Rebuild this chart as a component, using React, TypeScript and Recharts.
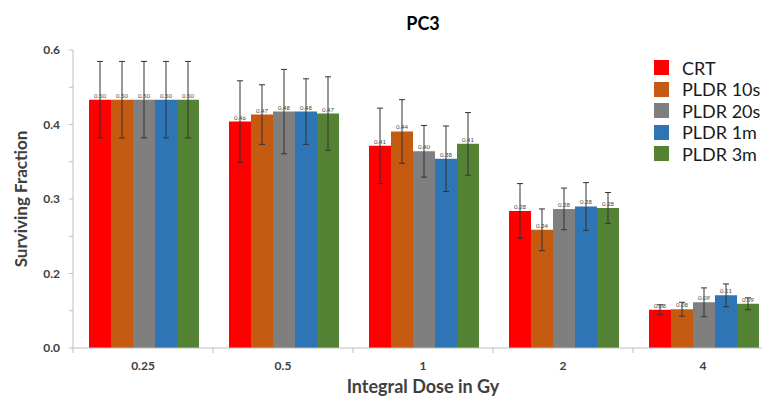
import React from 'react';
import { BarChart, Bar, XAxis, YAxis, ErrorBar, LabelList } from 'recharts';

const DOSES = ['0.25', '0.5', '1', '2', '4'];

const CRT = [0.5, 0.456, 0.407, 0.276, 0.077];
const CRT_ERR = [0.077, 0.082, 0.076, 0.055, 0.01];
const PLDR_10S = [0.5, 0.47, 0.436, 0.238, 0.078];
const PLDR_10S_ERR = [0.077, 0.06, 0.064, 0.042, 0.014];
const PLDR_20S = [0.5, 0.476, 0.396, 0.28, 0.092];
const PLDR_20S_ERR = [0.077, 0.085, 0.052, 0.042, 0.029];
const PLDR_1M = [0.5, 0.476, 0.381, 0.285, 0.106];
const PLDR_1M_ERR = [0.077, 0.066, 0.066, 0.048, 0.023];
const PLDR_3M = [0.5, 0.472, 0.411, 0.282, 0.089];
const PLDR_3M_ERR = [0.077, 0.074, 0.063, 0.031, 0.012];

const Y_TICKS = [0, 0.075, 0.15, 0.225, 0.3, 0.375, 0.45, 0.525, 0.6];
const Y_TICK_LABELS = ['0.0', '', '0.2', '', '0.3', '', '0.4', '', '0.6'];

const SERIES = [
  { key: 'crt', name: 'CRT', color: '#ff0000', values: CRT, errors: CRT_ERR },
  { key: 'p10s', name: 'PLDR 10s', color: '#c55a11', values: PLDR_10S, errors: PLDR_10S_ERR },
  { key: 'p20s', name: 'PLDR 20s', color: '#7f7f7f', values: PLDR_20S, errors: PLDR_20S_ERR },
  { key: 'p1m', name: 'PLDR 1m', color: '#2e75b6', values: PLDR_1M, errors: PLDR_1M_ERR },
  { key: 'p3m', name: 'PLDR 3m', color: '#548235', values: PLDR_3M, errors: PLDR_3M_ERR },
];

const data = DOSES.map((dose, i) => {
  const row: Record<string, string | number> = { dose };
  SERIES.forEach((s) => {
    row[s.key] = s.values[i];
    row[`${s.key}_err`] = s.errors[i];
  });
  return row;
});

const CHART_W = 790;
const CHART_H = 402;
const MARGIN = { top: 50, right: 17, bottom: 0, left: 0 };
const Y_AXIS_W = 73;
const BAND = (CHART_W - MARGIN.left - MARGIN.right - Y_AXIS_W) / DOSES.length;
const AXIS_COLOR = '#bfbfbf';
const TEXT_COLOR = '#404040';

const DoseTick = ({ x, y, payload }: any) => (
  <g>
    <line x1={x - BAND / 2} x2={x - BAND / 2} y1={y} y2={y + 5} stroke={AXIS_COLOR} />
    <text x={x} y={y + 22} textAnchor="middle" fontSize={12} fontWeight={700} fill={TEXT_COLOR}>
      {payload.value}
    </text>
  </g>
);

export default function App() {
  return (
    <div
      style={{
        position: 'absolute',
        left: 0,
        top: 0,
        width: 762,
        height: 402,
        overflow: 'hidden',
        background: '#fff',
        fontFamily: 'Lato, "Open Sans", sans-serif',
      }}
    >
      <div
        style={{
          position: 'absolute',
          left: 373,
          top: 12,
          width: 100,
          textAlign: 'center',
          fontSize: 18,
          fontWeight: 700,
          color: '#000',
          lineHeight: '22px',
        }}
      >
        PC3
      </div>

      <BarChart width={CHART_W} height={CHART_H} data={data} margin={MARGIN} barCategoryGap={16} barGap={0}>
        <XAxis
          dataKey="dose"
          height={CHART_H - 348}
          axisLine={{ stroke: AXIS_COLOR }}
          tickLine={false}
          tickSize={0}
          tickMargin={0}
          tick={<DoseTick />}
          interval={0}
          label={{
            value: 'Integral Dose in Gy',
            position: 'insideBottom',
            offset: 9,
            fontSize: 18,
            fontWeight: 700,
            fill: TEXT_COLOR,
          }}
        />
        <YAxis
          width={Y_AXIS_W}
          domain={[0, 0.6]}
          ticks={Y_TICKS}
          interval={0}
          tickFormatter={(_v: number, i: number) => Y_TICK_LABELS[i]}
          axisLine={{ stroke: AXIS_COLOR }}
          tickLine={{ stroke: AXIS_COLOR }}
          tickSize={4}
          tickMargin={9}
          tick={{ fontSize: 12, fontWeight: 700, fill: TEXT_COLOR }}
          label={{
            value: 'Surviving Fraction',
            angle: -90,
            position: 'insideLeft',
            offset: 21,
            fontSize: 17,
            fontWeight: 700,
            fill: TEXT_COLOR,
            style: { textAnchor: 'middle' },
          }}
        />
        {SERIES.map((s) => (
          <Bar key={s.key} dataKey={s.key} name={s.name} fill={s.color} isAnimationActive={false}>
            <ErrorBar dataKey={`${s.key}_err`} width={3} stroke="#333" strokeWidth={1} />
            <LabelList
              dataKey={s.key}
              position="top"
              offset={2}
              formatter={(v: any) => Number(v).toFixed(2)}
              fontSize={6}
              fill="#444"
            />
          </Bar>
        ))}
      </BarChart>

      <div style={{ position: 'absolute', left: 654, top: 57 }}>
        {SERIES.map((s) => (
          <div
            key={s.key}
            style={{ display: 'flex', alignItems: 'center', height: 21.5, whiteSpace: 'nowrap' }}
          >
            <span style={{ width: 15, height: 15, background: s.color, marginRight: 13, flexShrink: 0 }} />
            <span style={{ fontSize: 18, color: '#1a1a1a' }}>{s.name}</span>
          </div>
        ))}
      </div>
    </div>
  );
}
